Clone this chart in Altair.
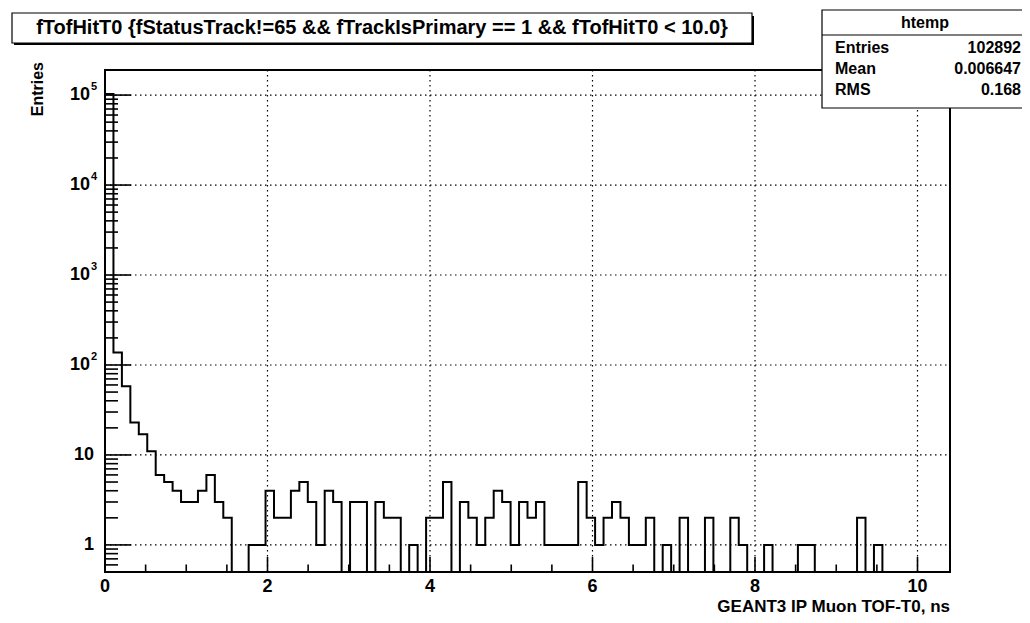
import altair as alt
import pandas as pd

# ---------------- data ----------------
BIN_WIDTH = 0.104
N_BINS = 100
counts = [
    102495, 138, 58, 23, 17, 11, 6, 5, 4, 3,
    3, 4, 6, 3, 2, 0, 0, 1, 1, 4,
    2, 2, 4, 5, 3, 1, 4, 3, 0, 3,
    3, 0, 3, 2, 2, 0, 1, 0, 2, 2,
    5, 0, 3, 2, 1, 2, 4, 3, 1, 3,
    2, 3, 1, 1, 1, 1, 5, 2, 1, 2,
    3, 2, 1, 1, 2, 0, 1, 0, 2, 0,
    0, 2, 0, 0, 2, 1, 0, 0, 1, 0,
    0, 0, 1, 1, 0, 0, 0, 0, 0, 2,
    0, 1, 0, 0, 0, 0, 0, 0, 0, 0,
]
x_major = [0, 2, 4, 6, 8, 10]
x_labels = ["0", "2", "4", "6", "8", "10"]
x_minor = [0.5, 1, 1.5, 2.5, 3, 3.5, 4.5, 5, 5.5, 6.5, 7, 7.5, 8.5, 9, 9.5]
y_major = [1, 10, 100, 1000, 10000, 100000]
y_label_base = ["1", "10", "10", "10", "10", "10"]
y_label_exp = ["", "", "2", "3", "4", "5"]
stat_names = ["Entries", "Mean", "RMS"]
stat_values = ["102892", "0.006647", "0.168"]
title_text = "fTofHitT0 {fStatusTrack!=65 && fTrackIsPrimary == 1 && fTofHitT0 < 10.0}"
x_title = "GEANT3 IP Muon TOF-T0, ns"
y_title = "Entries"
stats_title = "htemp"

X_MAX = 10.4
Y_MIN = 0.5
Y_MAX = 1.9e5
W, H = 845, 502
FONT = "Liberation Sans"

y_minor = [m * 10 ** k for k in range(-1, 6) for m in range(2, 10)
           if Y_MIN <= m * 10 ** k <= Y_MAX]

edges = [round(i * BIN_WIDTH, 4) for i in range(N_BINS + 1)]
hist = pd.DataFrame({"x": edges, "count": counts + [counts[-1]]})

xs = alt.Scale(domain=[0, X_MAX], nice=False, zero=False)
ys = alt.Scale(type="log", domain=[Y_MIN, Y_MAX], nice=False)
X = lambda f: alt.X(f, type="quantitative", scale=xs, axis=None)
Y = lambda f: alt.Y(f, type="quantitative", scale=ys, axis=None)

one = pd.DataFrame({"a": [0]})
DASH = [1.5, 3.5]

# ---------------- layers ----------------
vgrid = alt.Chart(pd.DataFrame({"v": x_major[1:]})).mark_rule(
    color="black", strokeWidth=1.2, strokeDash=DASH).encode(
    x=X("v"), y=alt.value(0), y2=alt.value(H))
hgrid = alt.Chart(pd.DataFrame({"v": y_major})).mark_rule(
    color="black", strokeWidth=1.2, strokeDash=DASH).encode(
    y=Y("v"), x=alt.value(0), x2=alt.value(W))

histo = alt.Chart(hist).transform_calculate(
    yplot=f"max(datum.count, {Y_MIN})"
).mark_line(interpolate="step-after", color="black", strokeWidth=2,
            strokeJoin="miter", clip=True).encode(x=X("x"), y=Y("yplot"))

xmaj_ticks = alt.Chart(pd.DataFrame({"v": x_major})).mark_rule(
    color="black", strokeWidth=1.6).encode(
    x=X("v"), y=alt.value(H), y2=alt.value(H - 15))
xmin_ticks = alt.Chart(pd.DataFrame({"v": x_minor})).mark_rule(
    color="black", strokeWidth=1.6).encode(
    x=X("v"), y=alt.value(H), y2=alt.value(H - 7.5))
ymaj_ticks = alt.Chart(pd.DataFrame({"v": y_major})).mark_rule(
    color="black", strokeWidth=1.6).encode(
    y=Y("v"), x=alt.value(0), x2=alt.value(26))
ymin_ticks = alt.Chart(pd.DataFrame({"v": y_minor})).mark_rule(
    color="black", strokeWidth=1.6).encode(
    y=Y("v"), x=alt.value(0), x2=alt.value(13))

xlab = alt.Chart(pd.DataFrame({"v": x_major, "t": x_labels})).mark_text(
    font=FONT, fontWeight="bold", fontSize=18, align="center",
    baseline="middle", color="black").encode(
    x=X("v"), y=alt.value(H + 15), text="t:N")

ylab = pd.DataFrame({"v": y_major, "base": y_label_base, "exp": y_label_exp})
ylab_plain = alt.Chart(ylab).transform_filter("datum.exp == ''").mark_text(
    font=FONT, fontWeight="bold", fontSize=18, align="right",
    baseline="middle", color="black").encode(
    y=Y("v"), x=alt.value(-11), text="base:N")
ylab_base = alt.Chart(ylab).transform_filter("datum.exp != ''").mark_text(
    font=FONT, fontWeight="bold", fontSize=18, align="right",
    baseline="middle", color="black").encode(
    y=Y("v"), x=alt.value(-15), text="base:N")
ylab_exp = alt.Chart(ylab).transform_filter("datum.exp != ''").mark_text(
    font=FONT, fontWeight="bold", fontSize=11, align="left",
    baseline="middle", dy=-8, color="black").encode(
    y=Y("v"), x=alt.value(-14), text="exp:N")

xtitle = alt.Chart(one).mark_text(
    text=x_title, font=FONT, fontWeight="bold", fontSize=17, align="right",
    baseline="middle", color="black").encode(x=alt.value(W), y=alt.value(H + 35))
ytitle = alt.Chart(one).mark_text(
    text=y_title, font=FONT, fontWeight="bold", fontSize=16, align="right",
    baseline="middle", angle=270, color="black").encode(
    x=alt.value(-67), y=alt.value(-8))

# title pave
t_shadow = alt.Chart(one).mark_rect(fill="black").encode(
    x=alt.value(-91), x2=alt.value(649), y=alt.value(-54), y2=alt.value(-25))
t_box = alt.Chart(one).mark_rect(fill="white", stroke="black", strokeWidth=1.2).encode(
    x=alt.value(-93), x2=alt.value(647), y=alt.value(-57), y2=alt.value(-27))
t_text = alt.Chart(one).mark_text(
    text=title_text, font=FONT, fontWeight="bold", fontSize=20, align="center",
    baseline="middle", color="black").encode(x=alt.value(277), y=alt.value(-42))

# stats box
s_layers = [
    alt.Chart(one).mark_rect(fill="white", stroke="black", strokeWidth=1.2).encode(
        x=alt.value(717), x2=alt.value(922), y=alt.value(-60), y2=alt.value(38)),
    alt.Chart(one).mark_rule(color="black", strokeWidth=1.2).encode(
        x=alt.value(717), x2=alt.value(922), y=alt.value(-35)),
    alt.Chart(one).mark_text(
        text=stats_title, font=FONT, fontWeight="bold", fontSize=16, align="center",
        baseline="middle", color="black").encode(x=alt.value(820), y=alt.value(-47)),
]
for i, (nm, vl) in enumerate(zip(stat_names, stat_values)):
    yy = -22 + 21 * i
    s_layers.append(alt.Chart(one).mark_text(
        text=nm, font=FONT, fontWeight="bold", fontSize=16, align="left",
        baseline="middle", color="black").encode(x=alt.value(730), y=alt.value(yy)))
    s_layers.append(alt.Chart(one).mark_text(
        text=vl, font=FONT, fontWeight="bold", fontSize=16, align="right",
        baseline="middle", color="black").encode(x=alt.value(916), y=alt.value(yy)))

chart = alt.layer(
    vgrid, hgrid, histo, xmaj_ticks, xmin_ticks, ymaj_ticks, ymin_ticks,
    xlab, ylab_plain, ylab_base, ylab_exp, xtitle, ytitle,
    t_shadow, t_box, t_text, *s_layers,
).properties(
    width=W, height=H,
    autosize=alt.AutoSizeParams(type="none"),
    padding={"left": 97, "top": 62, "right": 72, "bottom": 43},
    background="white",
).configure_view(stroke="black", strokeWidth=2)

chart.save("out.html", embed_options={"renderer": "svg", "actions": False})
